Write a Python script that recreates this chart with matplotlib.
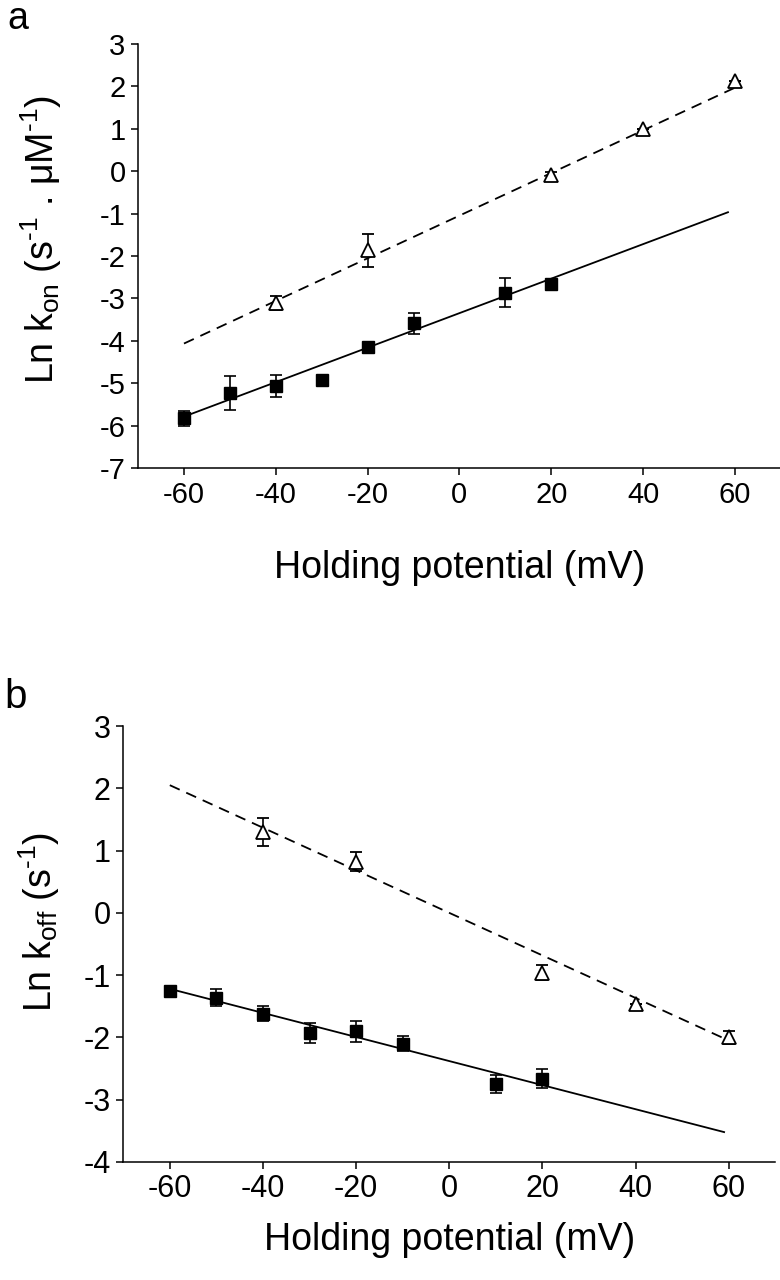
import matplotlib
matplotlib.use('Agg')
import matplotlib.pyplot as plt

# ── data ────────────────────────────────────────────────────────────────────
# panel a: Ln k_on
on_sq_x = [-60, -50, -40, -30, -20, -10, 10, 20]
on_sq_y = [-5.82, -5.23, -5.05, -4.92, -4.15, -3.58, -2.86, -2.67]
on_sq_err = [0.18, 0.40, 0.26, 0.0, 0.10, 0.25, 0.35, 0.08]
on_tri_x = [-40, -20, 20, 40, 60]
on_tri_y = [-3.11, -1.87, -0.10, 1.00, 2.11]
on_tri_err = [0.17, 0.38, 0.08, 0.0, 0.0]
on_fit_solid_x = [-60, 58.5]
on_fit_solid_y = [-5.78, -0.97]
on_fit_dash_x = [-60, 60]
on_fit_dash_y = [-4.06, 1.96]

# panel b: Ln k_off
off_sq_x = [-60, -50, -40, -30, -20, -10, 10, 20]
off_sq_y = [-1.25, -1.36, -1.62, -1.93, -1.90, -2.10, -2.75, -2.66]
off_sq_err = [0.05, 0.14, 0.12, 0.16, 0.17, 0.12, 0.15, 0.15]
off_tri_x = [-40, -20, 20, 40, 60]
off_tri_y = [1.30, 0.82, -0.96, -1.46, -2.00]
off_tri_err = [0.23, 0.15, 0.12, 0.0, 0.10]
off_fit_solid_x = [-60, 59]
off_fit_solid_y = [-1.22, -3.52]
off_fit_dash_x = [-60, 60]
off_fit_dash_y = [2.05, -2.05]

x_ticks = [-60, -40, -20, 0, 20, 40, 60]

plt.rcParams.update({
    'font.family': ['Liberation Sans', 'DejaVu Sans'],
    'mathtext.fontset': 'custom',
    'mathtext.rm': 'Liberation Sans',
    'mathtext.it': 'Liberation Sans',
    'axes.spines.right': False, 'axes.spines.top': False,
    'axes.linewidth': 1.1,
})

fig = plt.figure(figsize=(7.8, 12.8), dpi=100)
ax_a = fig.add_axes([0.177, 0.634, 0.824, 0.332])
ax_b = fig.add_axes([0.158, 0.0922, 0.836, 0.3406])


def draw_panel(ax, sx, sy, se, tx, ty, te, fsx, fsy, fdx, fdy, tick_fs):
    ax.plot(fsx, fsy, color='black', lw=1.3, zorder=2)
    ax.plot(fdx, fdy, color='black', lw=1.3, dashes=(6, 4), zorder=2)
    ax.errorbar(sx, sy, yerr=se, fmt='s', ms=8, mfc='black', mec='black',
                ecolor='black', elinewidth=1.2, capsize=4.5, capthick=1.2, zorder=3)
    ax.errorbar(tx, ty, yerr=te, fmt='^', ms=9.5, mfc='white', mec='black', mew=1.3,
                ecolor='black', elinewidth=1.2, capsize=4.5, capthick=1.2, zorder=3)
    ax.set_xlim(-70, 70)
    ax.set_xticks(x_ticks)
    ax.set_xticklabels([str(v) for v in x_ticks])
    ax.tick_params(axis='both', direction='out', length=5, width=1.1,
                   labelsize=tick_fs, pad=4)


draw_panel(ax_a, on_sq_x, on_sq_y, on_sq_err, on_tri_x, on_tri_y, on_tri_err,
           on_fit_solid_x, on_fit_solid_y, on_fit_dash_x, on_fit_dash_y, 21)
ax_a.set_ylim(-7, 3)
ax_a.set_yticks(range(-7, 4))
ax_a.set_yticklabels([str(v) for v in range(-7, 4)])
ax_a.set_ylabel('Ln k$_{\\mathrm{on}}$ (s$^{\\text{-1}}$ . μM$^{\\text{-1}}$)', fontsize=27)
ax_a.yaxis.set_label_coords(-0.115, 0.54)
ax_a.set_xlabel('Holding potential (mV)', fontsize=27, va='top')
ax_a.xaxis.set_label_coords(0.5, -0.193)

draw_panel(ax_b, off_sq_x, off_sq_y, off_sq_err, off_tri_x, off_tri_y, off_tri_err,
           off_fit_solid_x, off_fit_solid_y, off_fit_dash_x, off_fit_dash_y, 22)
ax_b.set_ylim(-4, 3)
ax_b.set_yticks(range(-4, 4))
ax_b.set_yticklabels([str(v) for v in range(-4, 4)])
ax_b.set_ylabel('Ln k$_{\\mathrm{off}}$ (s$^{\\text{-1}}$)', fontsize=27)
ax_b.yaxis.set_label_coords(-0.094, 0.55)
ax_b.set_xlabel('Holding potential (mV)', fontsize=27, va='top')
ax_b.xaxis.set_label_coords(0.5, -0.138)

fig.text(0.010, 0.977, 'a', fontsize=27, va='baseline')
fig.text(0.005, 0.447, 'b', fontsize=29, va='baseline')

fig.savefig('out.png', dpi=100, facecolor='white')
